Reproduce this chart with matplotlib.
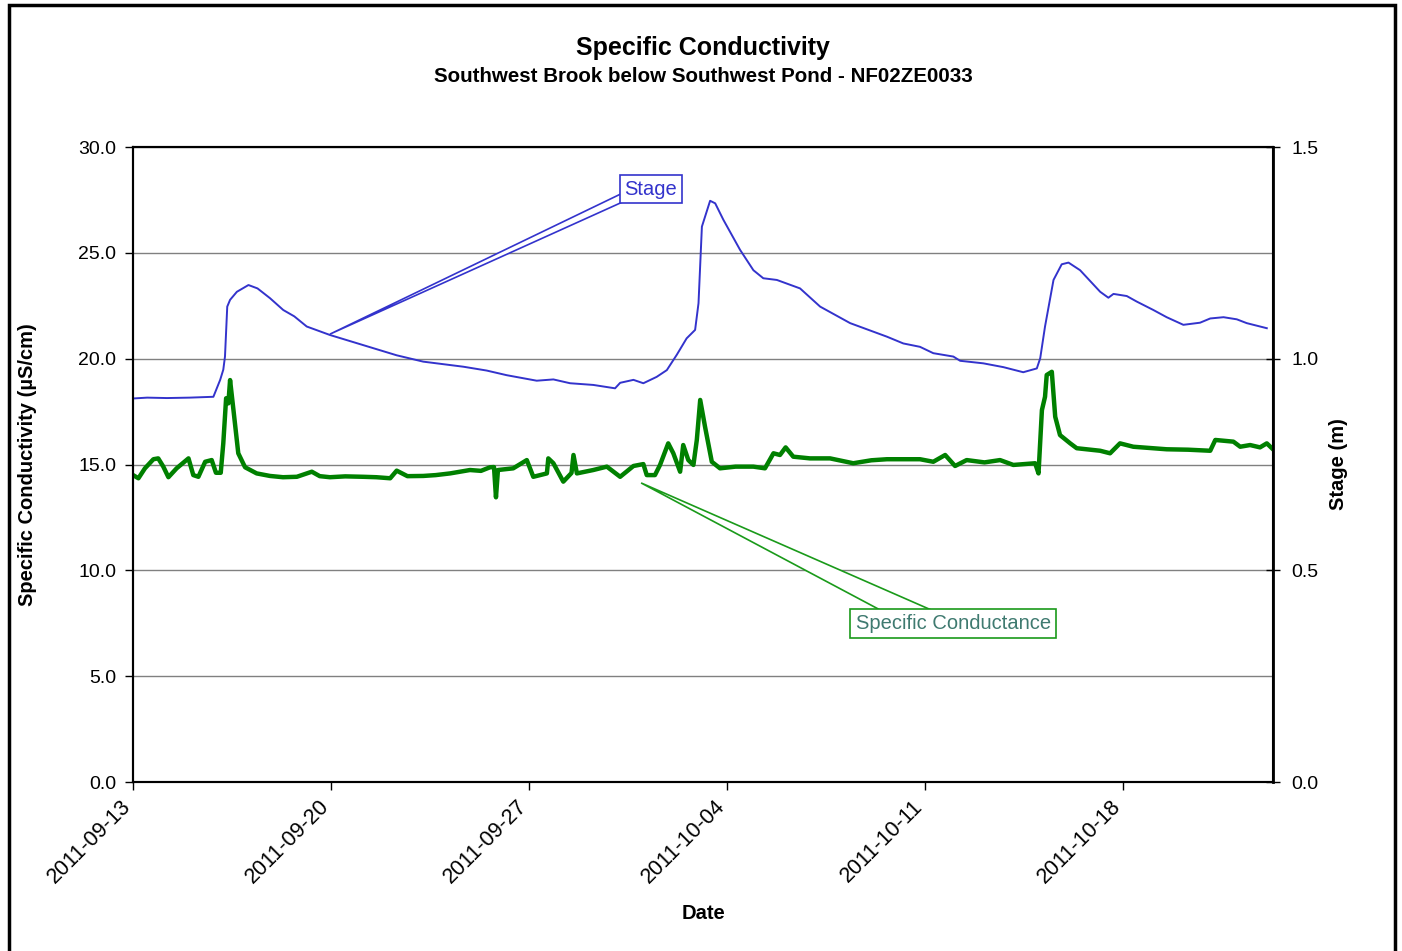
import pandas as pd
import matplotlib
matplotlib.use("Agg")
import matplotlib.pyplot as plt
import matplotlib.dates as mdates
import matplotlib.transforms as mtransforms
from matplotlib.patches import Rectangle, Polygon

plt.rcParams['font.family'] = ['Liberation Sans', 'DejaVu Sans']

start = pd.Timestamp("2011-09-13")

# stage (m), days since start
stage_days = [0.0, 0.5, 1.2, 2.0, 2.84, 3.08, 3.19, 3.25, 3.33, 3.43, 3.67, 4.08, 4.40, 4.84,
              5.31, 5.70, 6.14, 6.96, 7.50, 8.14, 9.32, 10.26, 11.68, 12.50, 13.21, 14.27,
              14.86, 15.45, 16.27, 17.04, 17.22, 17.69, 18.04, 18.51, 18.87, 19.22, 19.57,
              19.87, 19.99, 20.11, 20.40, 20.58, 20.87, 21.46, 21.93, 22.28, 22.76, 23.58,
              24.29, 25.35, 26.65, 27.23, 27.82, 28.29, 29.00, 29.24, 30.06, 30.77, 31.47,
              31.95, 32.07, 32.24, 32.54, 32.83, 33.07, 33.48, 34.19, 34.48, 34.66, 35.13,
              35.48, 36.07, 36.54, 37.13, 37.72, 38.08, 38.55, 39.02, 39.37, 40.08]
stage_m = [0.906, 0.908, 0.907, 0.908, 0.910, 0.950, 0.974, 1.005, 1.123, 1.139, 1.158, 1.174,
           1.166, 1.143, 1.115, 1.100, 1.076, 1.056, 1.045, 1.032, 1.008, 0.993, 0.981, 0.972,
           0.961, 0.948, 0.951, 0.942, 0.938, 0.930, 0.943, 0.950, 0.942, 0.957, 0.973, 1.009,
           1.048, 1.068, 1.131, 1.312, 1.373, 1.367, 1.328, 1.257, 1.209, 1.190, 1.186, 1.166,
           1.123, 1.084, 1.052, 1.036, 1.028, 1.013, 1.005, 0.995, 0.989, 0.980, 0.968, 0.977,
           1.001, 1.076, 1.186, 1.223, 1.227, 1.209, 1.158, 1.144, 1.153, 1.148, 1.135, 1.115,
           1.098, 1.080, 1.085, 1.095, 1.098, 1.093, 1.084, 1.072]

# specific conductance (uS/cm), days since start
cond_days = [0.0, 0.19, 0.42, 0.72, 0.89, 1.07, 1.25, 1.54, 1.96, 2.13, 2.31, 2.55, 2.78, 2.93,
             3.10, 3.19, 3.29, 3.37, 3.43, 3.55, 3.72, 3.96, 4.37, 4.84, 5.30, 5.79, 6.32,
             6.60, 6.96, 7.50, 8.14, 8.60, 9.09, 9.32, 9.70, 10.26, 10.70, 11.21, 11.91, 12.30,
             12.62, 12.76, 12.83, 12.90, 13.44, 13.92, 14.15, 14.63, 14.68, 14.86, 15.21,
             15.50, 15.57, 15.69, 16.27, 16.75, 17.22, 17.69, 18.04, 18.16, 18.45, 18.63,
             18.92, 19.10, 19.34, 19.45, 19.63, 19.81, 19.93, 20.05, 20.22, 20.46, 20.75,
             21.30, 21.93, 22.34, 22.64, 22.87, 23.07, 23.34, 23.93, 24.64, 25.46, 26.10,
             26.65, 27.82, 28.29, 28.71, 29.06, 29.47, 30.10, 30.65, 31.12, 31.89, 32.01,
             32.13, 32.24, 32.30, 32.48, 32.60, 32.77, 33.13, 33.36, 34.19, 34.54, 34.89,
             35.36, 36.54, 37.30, 38.08, 38.26, 38.90, 39.14, 39.49, 39.84, 40.08, 40.26]
cond_us = [14.50, 14.35, 14.82, 15.25, 15.29, 14.90, 14.40, 14.82, 15.29, 14.50, 14.42, 15.13,
           15.21, 14.61, 14.61, 16.00, 18.13, 17.89, 18.99, 17.57, 15.53, 14.87, 14.58, 14.46,
           14.40, 14.42, 14.66, 14.45, 14.40, 14.44, 14.42, 14.40, 14.35, 14.71, 14.45, 14.46,
           14.50, 14.58, 14.74, 14.70, 14.87, 14.88, 13.45, 14.74, 14.82, 15.21, 14.42, 14.58,
           15.29, 15.06, 14.19, 14.60, 15.45, 14.58, 14.74, 14.90, 14.42, 14.93, 15.02, 14.50,
           14.50, 14.98, 16.00, 15.53, 14.66, 15.92, 15.21, 14.98, 16.16, 18.05, 16.79, 15.13,
           14.82, 14.90, 14.90, 14.82, 15.53, 15.45, 15.81, 15.37, 15.29, 15.29, 15.06, 15.20,
           15.25, 15.25, 15.13, 15.45, 14.93, 15.21, 15.10, 15.21, 14.98, 15.06, 14.58, 17.57,
           18.20, 19.23, 19.38, 17.26, 16.39, 16.00, 15.77, 15.65, 15.53, 16.00, 15.84, 15.72,
           15.70, 15.65, 16.16, 16.08, 15.84, 15.92, 15.81, 16.00, 15.77]

stage_t = start + pd.to_timedelta(stage_days, unit="D")
cond_t = start + pd.to_timedelta(cond_days, unit="D")


def dnum(days):
    return mdates.date2num(start + pd.Timedelta(days=days))


fig = plt.figure(figsize=(14.02, 9.51), dpi=100)
fig.patches.append(Rectangle((0.0065, -0.05), 0.9885, 1.045, transform=fig.transFigure,
                             fill=False, edgecolor='black', linewidth=2.5))

ax = fig.add_axes([0.0949, 0.1777, 0.8131, 0.6677])
ax2 = ax.twinx()

ax.plot(cond_t, cond_us, color='#008000', linewidth=3.2, zorder=3)
ax2.plot(stage_t, stage_m, color='#3333cc', linewidth=1.4)

ax.set_ylim(0, 30)
ax2.set_ylim(0, 1.5)
ax.set_xlim(start, start + pd.Timedelta(days=40.3))
ax.set_yticks([0, 5, 10, 15, 20, 25, 30])
ax.set_yticklabels(['%.1f' % v for v in [0, 5, 10, 15, 20, 25, 30]])
ax2.set_yticks([0, 0.5, 1.0, 1.5])
ax2.set_yticklabels(['0.0', '0.5', '1.0', '1.5'])
ax.yaxis.grid(True, color='#808080', linewidth=1.0)
ax.set_axisbelow(True)

ax.set_xticks(pd.date_range(start, periods=6, freq='7D'))
ax.xaxis.set_major_formatter(mdates.DateFormatter('%Y-%m-%d'))

ax.tick_params(axis='both', labelsize=14, direction='out', length=6, width=1, pad=6)
ax.tick_params(axis='x', labelsize=15.5, pad=4)
ax2.tick_params(axis='y', labelsize=14, direction='inout', length=10, width=1, pad=8)

shift = mtransforms.ScaledTranslation(-13 / 100, 0, fig.dpi_scale_trans)
for lab in ax.get_xticklabels():
    lab.set_rotation(45)
    lab.set_ha('right')
    lab.set_va('top')
    lab.set_rotation_mode('anchor')
    lab.set_transform(lab.get_transform() + shift)

for sp in ax.spines.values():
    sp.set_linewidth(1.5)
for sp in ax2.spines.values():
    sp.set_linewidth(1.5)
ax2.spines['right'].set_linewidth(2)

ax.set_xlabel('Date', fontsize=14.5, fontweight='bold', labelpad=12)
ax.set_ylabel('Specific Conductivity (\u00b5S/cm)', fontsize=14.5, fontweight='bold', labelpad=30)
ax2.set_ylabel('Stage (m)', fontsize=14.5, fontweight='bold', labelpad=8)

fig.text(0.5014, 0.9495, 'Specific Conductivity', ha='center', va='center',
         fontsize=18, fontweight='bold')
fig.text(0.5014, 0.920, 'Southwest Brook below Southwest Pond - NF02ZE0033', ha='center',
         va='center', fontsize=14.8, fontweight='bold')

# callouts (Excel style wedge from box edge to the line)
ax2.add_patch(Polygon([(dnum(6.96), 1.058), (dnum(17.30), 1.391), (dnum(17.30), 1.370)],
                      closed=True, fc='white', ec='#3333cc', lw=1.2, zorder=4))
ax2.text(dnum(18.30), 1.4008, 'Stage', fontsize=14.5, color='#3333cc', ha='center',
         va='center', zorder=5,
         bbox=dict(boxstyle='square,pad=0.22', fc='white', ec='#3333cc', lw=1.2))

ax.add_patch(Polygon([(dnum(17.96), 14.13), (dnum(26.52), 8.05), (dnum(28.35), 8.05)],
                     closed=True, fc='white', ec='#1a9a1a', lw=1.2, zorder=4))
ax.text(dnum(28.99), 7.51, 'Specific Conductance', fontsize=14.5, color='#3f7a70',
        ha='center', va='center', zorder=5,
        bbox=dict(boxstyle='square,pad=0.25', fc='white', ec='#1a9a1a', lw=1.2))

plt.savefig('out.png', dpi=100)
